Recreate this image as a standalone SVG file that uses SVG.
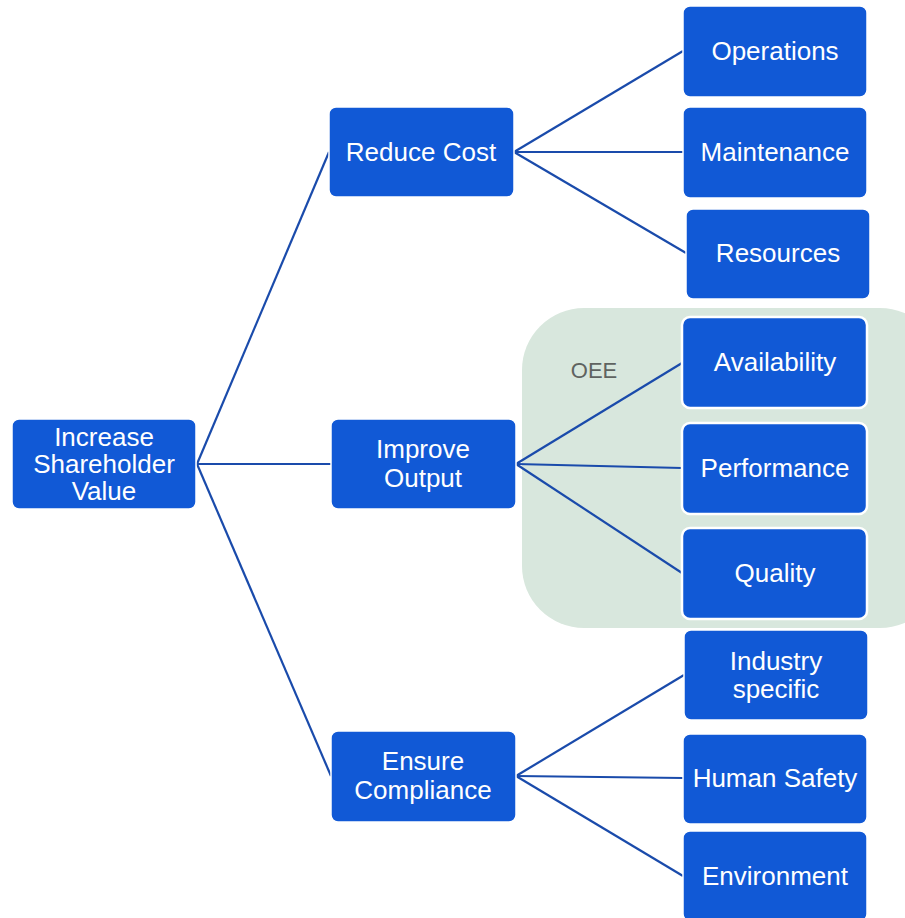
<svg xmlns="http://www.w3.org/2000/svg" width="905" height="918" viewBox="0 0 905 918">
<style>
.box{fill:#1159d6;stroke:#ffffff;stroke-width:1.5}
.bw{fill:#1159d6;stroke:#ffffff;stroke-width:2.5}
.t{font-family:"Liberation Sans",Arial,sans-serif;font-size:26px;fill:#ffffff;text-anchor:middle}
.c{stroke:#1a4bab;stroke-width:2.2;fill:none}
</style>
<rect width="905" height="918" fill="#ffffff"/>
<g id="oee-group">
<rect x="522" y="308" width="420" height="320" rx="62" fill="#d8e7dd"/>
<text x="594" y="378" font-family="Liberation Sans,Arial,sans-serif" font-size="22" fill="#5f6360" text-anchor="middle">OEE</text>
</g>
<g id="connectors">
<line class="c" x1="197" y1="464" x2="329" y2="152"/>
<line class="c" x1="197" y1="464" x2="331" y2="464"/>
<line class="c" x1="197" y1="464" x2="331" y2="776"/>
<line class="c" x1="514" y1="152" x2="683" y2="51"/>
<line class="c" x1="514" y1="152" x2="683" y2="152"/>
<line class="c" x1="514" y1="152" x2="686" y2="253"/>
<line class="c" x1="516" y1="464" x2="682" y2="363"/>
<line class="c" x1="516" y1="464" x2="682" y2="468"/>
<line class="c" x1="516" y1="464" x2="682" y2="573"/>
<line class="c" x1="516" y1="776" x2="684" y2="675"/>
<line class="c" x1="516" y1="776" x2="683" y2="778"/>
<line class="c" x1="516" y1="776" x2="683" y2="876"/>
</g>
<g id="n-root"><rect class="box" x="12" y="419" width="184" height="90" rx="7"/>
<text class="t" x="104" y="446">Increase<tspan x="104" dy="27">Shareholder</tspan><tspan x="104" dy="27">Value</tspan></text></g>
<g id="n-reduce"><rect class="box" x="329" y="107" width="185" height="90" rx="7"/><text class="t" x="421" y="161">Reduce Cost</text></g>
<g id="n-improve"><rect class="box" x="331" y="419" width="185" height="90" rx="7"/><text class="t" x="423" y="458">Improve<tspan x="423" dy="29">Output</tspan></text></g>
<g id="n-ensure"><rect class="box" x="331" y="731" width="185" height="91" rx="7"/><text class="t" x="423" y="770">Ensure<tspan x="423" dy="29">Compliance</tspan></text></g>
<g id="n-operations"><rect class="box" x="683" y="6" width="184" height="91" rx="7"/><text class="t" x="775" y="60">Operations</text></g>
<g id="n-maintenance"><rect class="box" x="683" y="107" width="184" height="91" rx="7"/><text class="t" x="775" y="161">Maintenance</text></g>
<g id="n-resources"><rect class="box" x="686" y="209" width="184" height="90" rx="7"/><text class="t" x="778" y="262">Resources</text></g>
<g id="n-availability"><rect class="bw" x="682" y="317" width="185" height="91" rx="8"/><text class="t" x="775" y="371">Availability</text></g>
<g id="n-performance"><rect class="bw" x="682" y="423" width="185" height="91" rx="8"/><text class="t" x="775" y="477">Performance</text></g>
<g id="n-quality"><rect class="bw" x="682" y="528" width="185" height="91" rx="8"/><text class="t" x="775" y="582">Quality</text></g>
<g id="n-industry"><rect class="box" x="684" y="630" width="184" height="90" rx="7"/><text class="t" x="776" y="670">Industry<tspan x="776" dy="28">specific</tspan></text></g>
<g id="n-safety"><rect class="box" x="683" y="734" width="184" height="90" rx="7"/><text class="t" x="775" y="787">Human Safety</text></g>
<g id="n-environment"><rect class="box" x="683" y="831" width="184" height="90" rx="7"/><text class="t" x="775" y="885">Environment</text></g>
</svg>
